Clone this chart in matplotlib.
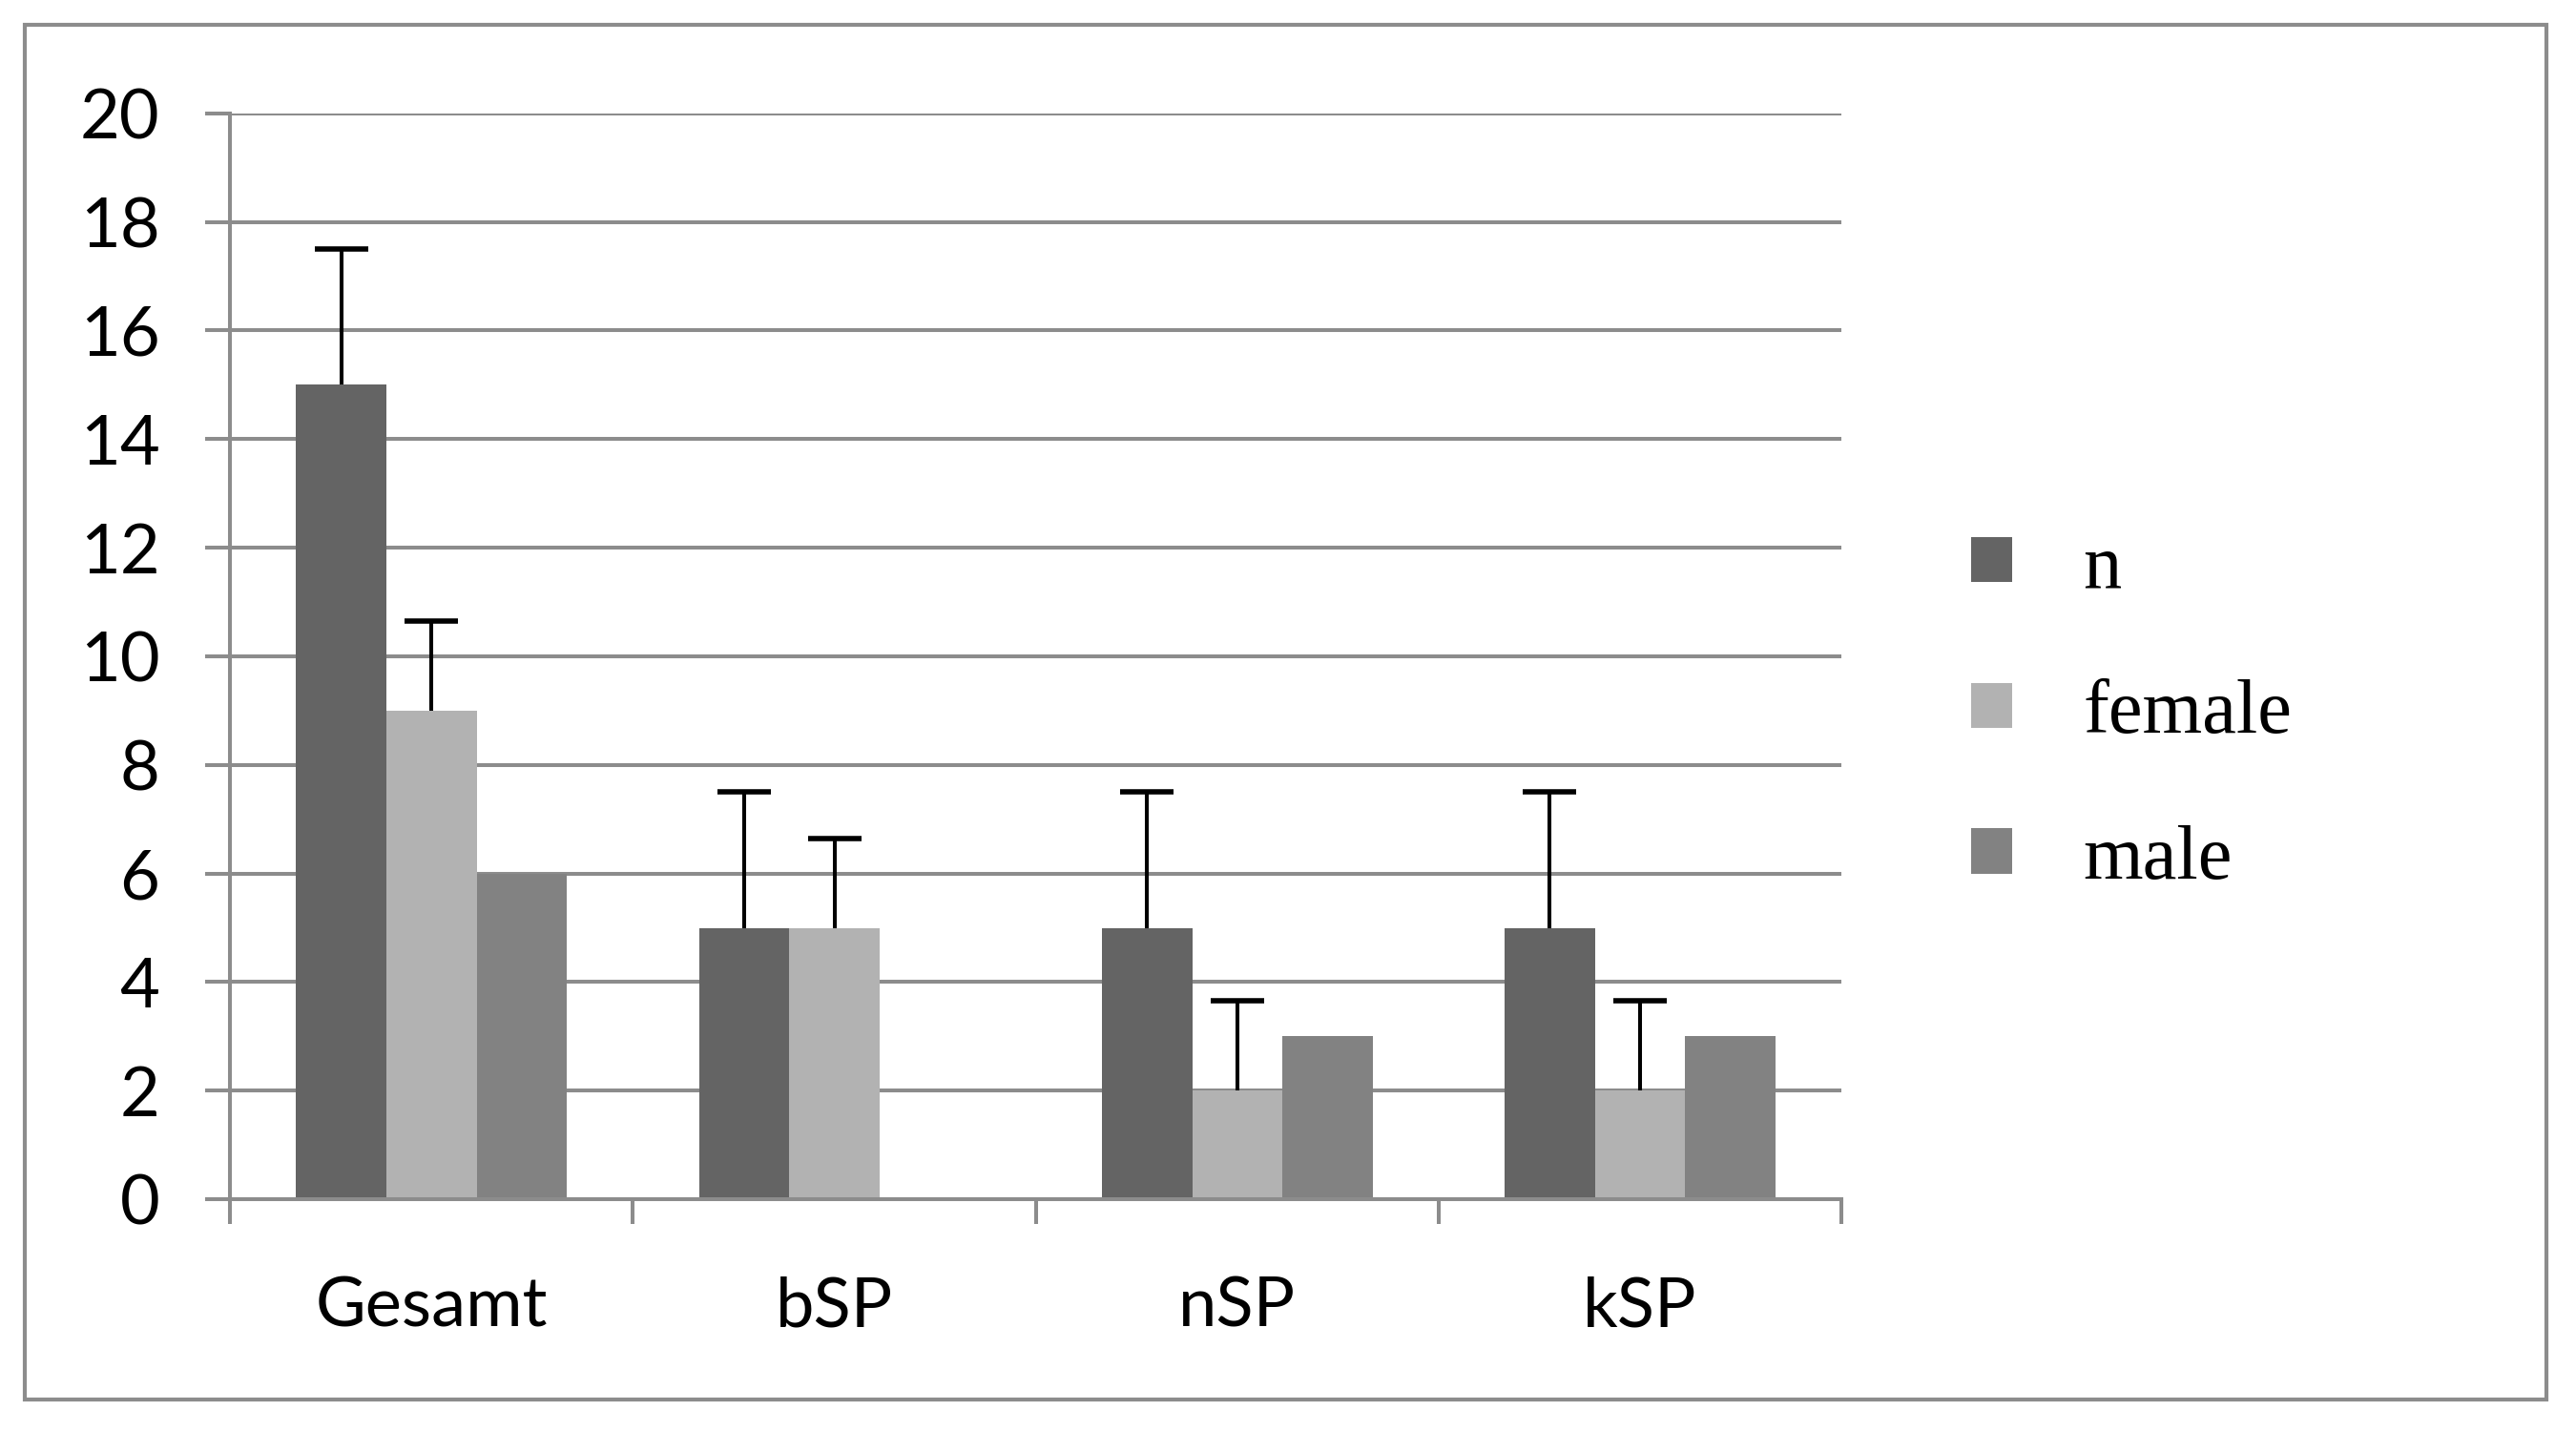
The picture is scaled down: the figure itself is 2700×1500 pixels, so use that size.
import matplotlib
matplotlib.use("Agg")
import matplotlib.pyplot as plt
import numpy as np
from matplotlib.patches import Rectangle

categories = ["Gesamt", "bSP", "nSP", "kSP"]
series = ["n", "female", "male"]
n_vals = [15, 5, 5, 5]
female_vals = [9, 5, 2, 2]
male_vals = [6, 0, 3, 3]
n_err = [2.5, 2.5, 2.5, 2.5]
female_err = [1.65, 1.65, 1.65, 1.65]

colors = ["#646464", "#b2b2b2", "#828282"]
grid_col = "#8c8c8c"
lw = 2.9

fig = plt.figure(figsize=(27, 15), dpi=100)
ax = fig.add_axes([0.0893, 0.1619, 0.7149 - 0.0893, 0.9208 - 0.1619])

x = np.arange(len(categories))
w = 0.224
values = [n_vals, female_vals, male_vals]
errs = [n_err, female_err, None]
handles = []
for i, (vals, col, lab) in enumerate(zip(values, colors, series)):
    pos = x + (i - 1) * w
    b = ax.bar(pos, vals, width=w, color=col, label=lab, zorder=2)
    handles.append(b)
    if errs[i] is not None:
        eb = ax.errorbar(pos, vals, yerr=[np.zeros(len(vals)), errs[i]], fmt="none",
                         ecolor="black", elinewidth=lw, capsize=20, capthick=4,
                         zorder=3)
        # only the upper cap, like the original
        eb[1][0].set_visible(False)

ax.set_xlim(-0.5, 3.5)
ax.set_ylim(0, 20)
ax.set_yticks(np.arange(0, 21, 2))
ax.yaxis.grid(True, color=grid_col, linewidth=lw, zorder=0)
ax.set_axisbelow(True)

ax.set_xticks(np.arange(-0.5, 4, 1))
ax.set_xticklabels([])
ax.set_xticks(x, minor=True)
ax.set_xticklabels(categories, minor=True)
ax.tick_params(axis="x", which="minor", length=0, pad=58, labelsize=52)
ax.tick_params(axis="x", which="major", length=19, width=lw, color=grid_col, direction="out")
ax.tick_params(axis="y", length=19, width=lw, color=grid_col, direction="out", pad=34, labelsize=52)

for lab in ax.get_xticklabels(minor=True) + ax.get_yticklabels():
    lab.set_family("Lato")

for s in ["top", "right"]:
    ax.spines[s].set_visible(False)
for s in ["left", "bottom"]:
    ax.spines[s].set_color(grid_col)
    ax.spines[s].set_linewidth(lw)

fig.legend(handles=handles, labels=series, loc="center left",
           bbox_to_anchor=(0.7653, 0.501), frameon=False,
           prop={"family": "Liberation Serif", "size": 58},
           handlelength=0.53, handleheight=0.53, handletextpad=0.92,
           labelspacing=0.99, borderpad=0, borderaxespad=0)

fig.patches.append(Rectangle((0.0096, 0.0218), 0.9885 - 0.0096, 0.9828 - 0.0218,
                             transform=fig.transFigure, fill=False,
                             edgecolor=grid_col, linewidth=3))

fig.savefig("out.png", dpi=100, facecolor="white")
